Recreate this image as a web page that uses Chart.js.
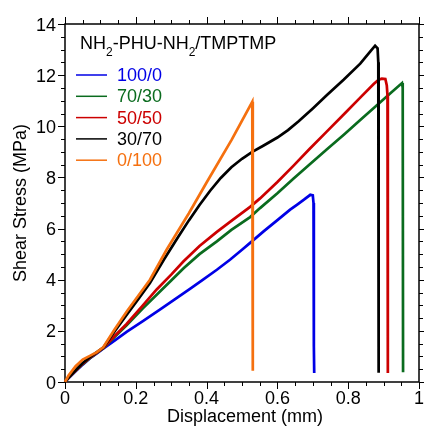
<!DOCTYPE html>
<html>
<head>
<meta charset="utf-8">
<script src="https://cdn.jsdelivr.net/npm/chart.js@4.4.1/dist/chart.umd.min.js"></script>
<style>
html,body{margin:0;padding:0;background:#fff;}
#wrap{width:424px;height:429px;position:relative;}
</style>
</head>
<body>
<div id="wrap"><canvas id="c" width="424" height="429"></canvas></div>
<script>
// ---- data ----
const seriesLabels = ['100/0', '70/30', '50/50', '30/70', '0/100'];
const seriesColors = ['#0000e6', '#0a6b1e', '#cc0000', '#000000', '#f5700f'];
const legendTitle = ['NH', '2', '-PHU-NH', '2', '/TMPTMP'];

const xTickValues = [0, 0.2, 0.4, 0.6, 0.8, 1];
const xTickLabels = ['0', '0.2', '0.4', '0.6', '0.8', '1'];
const yTickValues = [0, 2, 4, 6, 8, 10, 12, 14];
const yTickLabels = ['0', '2', '4', '6', '8', '10', '12', '14'];

const x100_0 = [0, 0.01, 0.03, 0.05, 0.07, 0.09, 0.108, 0.14, 0.174, 0.22, 0.27, 0.31, 0.353, 0.39, 0.429, 0.466, 0.50, 0.523, 0.561, 0.60, 0.636, 0.655, 0.675, 0.693, 0.700, 0.702, 0.703, 0.704];
const y100_0 = [0, 0.15, 0.42, 0.68, 0.92, 1.12, 1.30, 1.62, 1.96, 2.38, 2.85, 3.23, 3.64, 4.0, 4.39, 4.78, 5.17, 5.44, 5.89, 6.33, 6.74, 6.93, 7.13, 7.32, 7.30, 7.0, 1.4, 0.35];

const x70_30 = [0, 0.01, 0.03, 0.05, 0.07, 0.09, 0.108, 0.14, 0.174, 0.22, 0.269, 0.30, 0.335, 0.38, 0.429, 0.47, 0.523, 0.551, 0.60, 0.645, 0.69, 0.74, 0.79, 0.834, 0.881, 0.92, 0.952, 0.954, 0.955];
const y70_30 = [0, 0.16, 0.44, 0.70, 0.93, 1.14, 1.32, 1.76, 2.22, 2.88, 3.55, 3.97, 4.45, 5.0, 5.5, 5.95, 6.45, 6.8, 7.38, 7.95, 8.5, 9.1, 9.7, 10.25, 10.82, 11.3, 11.69, 11.5, 0.38];

const x50_50 = [0, 0.01, 0.03, 0.05, 0.07, 0.09, 0.108, 0.14, 0.174, 0.22, 0.259, 0.30, 0.335, 0.38, 0.429, 0.47, 0.523, 0.551, 0.60, 0.645, 0.69, 0.74, 0.79, 0.834, 0.872, 0.886, 0.895, 0.905, 0.909, 0.911, 0.912];
const y50_50 = [0, 0.17, 0.45, 0.72, 0.95, 1.15, 1.33, 1.80, 2.27, 3.0, 3.62, 4.2, 4.72, 5.32, 5.87, 6.3, 6.85, 7.18, 7.82, 8.45, 9.1, 9.8, 10.5, 11.12, 11.65, 11.82, 11.86, 11.85, 11.6, 11.2, 0.35];

const x30_70 = [0, 0.01, 0.03, 0.05, 0.07, 0.09, 0.108, 0.14, 0.174, 0.21, 0.24, 0.28, 0.32, 0.35, 0.38, 0.41, 0.44, 0.47, 0.50, 0.529, 0.56, 0.60, 0.63, 0.66, 0.70, 0.74, 0.787, 0.834, 0.862, 0.876, 0.883, 0.885, 0.886];
const y30_70 = [0, 0.17, 0.46, 0.74, 0.97, 1.17, 1.34, 1.98, 2.62, 3.3, 3.87, 4.8, 5.68, 6.32, 6.92, 7.48, 7.98, 8.4, 8.73, 9.0, 9.24, 9.56, 9.85, 10.2, 10.7, 11.22, 11.82, 12.45, 12.92, 13.15, 13.05, 12.5, 0.36];

const x0_100 = [0, 0.01, 0.03, 0.05, 0.07, 0.09, 0.108, 0.14, 0.174, 0.24, 0.287, 0.35, 0.40, 0.471, 0.529, 0.530, 0.531];
const y0_100 = [0, 0.25, 0.62, 0.88, 1.02, 1.17, 1.36, 2.05, 2.75, 4.0, 5.17, 6.6, 7.8, 9.48, 10.96, 10.5, 0.44];

const allX = [x100_0, x70_30, x50_50, x30_70, x0_100];
const allY = [y100_0, y70_30, y50_50, y30_70, y0_100];

const FONT = "'Liberation Sans', Arial, Helvetica, sans-serif";

const datasets = seriesLabels.map((lab, k) => ({
  label: lab,
  data: allX[k].map((x, i) => ({ x: x, y: allY[k][i] })),
  borderColor: seriesColors[k],
  backgroundColor: seriesColors[k],
  borderWidth: 2.7,
  pointRadius: 0,
  showLine: true,
  tension: 0,
  fill: false,
  clip: false,
  order: 5 - k
}));

const decor = {
  id: 'decor',
  beforeDatasetsDraw(chart) {
    const { ctx, chartArea: a } = chart;
    ctx.save();
    ctx.strokeStyle = '#000';
    ctx.lineWidth = 1.5;
    ctx.strokeRect(a.left, a.top, a.right - a.left, a.bottom - a.top);
    ctx.restore();
  },
  afterDraw(chart) {
    const { ctx, chartArea: a, scales } = chart;
    const xs = scales.x, ys = scales.y;
    ctx.save();
    ctx.strokeStyle = '#000';
    ctx.lineWidth = 1;
    // x ticks (bottom & top, outward)
    for (let i = 0; i <= 20; i++) {
      const v = i * 0.05;
      const px = Math.round(xs.getPixelForValue(v)) + 0.5;
      const len = (i % 4 === 0) ? 7 : 4;
      ctx.beginPath();
      ctx.moveTo(px, a.bottom); ctx.lineTo(px, a.bottom + len);
      ctx.moveTo(px, a.top); ctx.lineTo(px, a.top - len);
      ctx.stroke();
    }
    // y ticks (left & right, outward)
    for (let i = 0; i <= 28; i++) {
      const v = i * 0.5;
      const py = Math.round(ys.getPixelForValue(v)) + 0.5;
      const len = (i % 4 === 0) ? 7 : 4;
      ctx.beginPath();
      ctx.moveTo(a.left, py); ctx.lineTo(a.left - len, py);
      ctx.moveTo(a.right, py); ctx.lineTo(a.right + len, py);
      ctx.stroke();
    }
    // tick labels
    ctx.fillStyle = '#000';
    ctx.font = '18px ' + FONT;
    ctx.textBaseline = 'alphabetic';
    ctx.textAlign = 'center';
    xTickValues.forEach((v, i) => {
      ctx.fillText(xTickLabels[i], xs.getPixelForValue(v), 403.5);
    });
    ctx.textAlign = 'right';
    yTickValues.forEach((v, i) => {
      ctx.fillText(yTickLabels[i], 56, ys.getPixelForValue(v) + 6.5);
    });
    // axis titles
    ctx.textAlign = 'center';
    ctx.fillText('Displacement (mm)', 245, 422);
    ctx.save();
    ctx.translate(26, 203);
    ctx.rotate(-Math.PI / 2);
    ctx.fillText('Shear Stress (MPa)', 0, 0);
    ctx.restore();

    // legend title with subscripts
    let tx = 80;
    const tb = 49;
    ctx.textAlign = 'left';
    legendTitle.forEach((part, i) => {
      const sub = (i % 2 === 1);
      ctx.font = (sub ? '12px ' : '18px ') + FONT;
      ctx.fillText(part, tx, sub ? tb + 7 : tb);
      tx += ctx.measureText(part).width;
    });
    // legend entries
    const ly0 = 75, ldy = 21.3;
    ctx.textBaseline = 'middle';
    ctx.font = '18px ' + FONT;
    seriesLabels.forEach((lab, k) => {
      const yy = ly0 + k * ldy;
      ctx.strokeStyle = seriesColors[k];
      ctx.lineWidth = 1.5;
      ctx.beginPath();
      ctx.moveTo(76, yy); ctx.lineTo(107, yy);
      ctx.stroke();
      ctx.fillStyle = seriesColors[k];
      ctx.fillText(lab, 117, yy + 1);
    });
    ctx.restore();
  }
};

new Chart(document.getElementById('c'), {
  type: 'scatter',
  data: { datasets: datasets },
  options: {
    responsive: false,
    animation: false,
    devicePixelRatio: 1,
    layout: { padding: { top: 24, right: 5, left: 0, bottom: 0 } },
    plugins: { legend: { display: false }, tooltip: { enabled: false } },
    scales: {
      x: {
        type: 'linear', min: 0, max: 1,
        afterFit(s) { s.height = 47; },
        grid: { display: false, drawTicks: false },
        border: { display: false },
        ticks: { display: false, stepSize: 0.2 }
      },
      y: {
        type: 'linear', min: 0, max: 14,
        afterFit(s) { s.width = 65; },
        grid: { display: false, drawTicks: false },
        border: { display: false },
        ticks: { display: false, stepSize: 2 }
      }
    }
  },
  plugins: [decor]
});
</script>
</body>
</html>
